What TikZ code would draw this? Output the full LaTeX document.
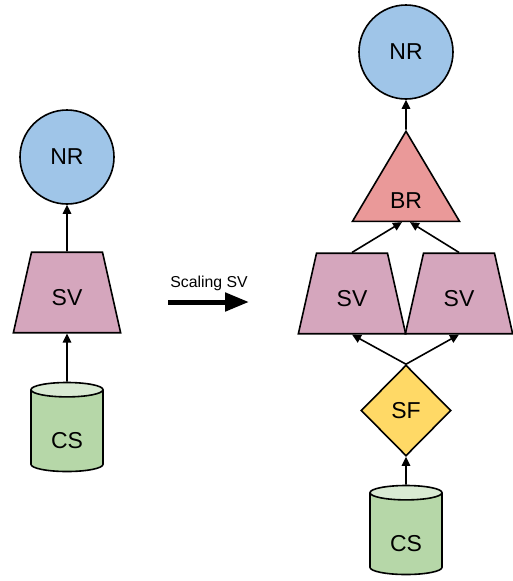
\documentclass[tikz,border=0pt]{standalone}
\usepackage{fontspec}
\setmainfont{Liberation Sans}
\usetikzlibrary{shapes.geometric,arrows.meta,calc}
\definecolor{nrblue}{HTML}{9FC5E8}
\definecolor{svpink}{HTML}{D5A6BD}
\definecolor{brred}{HTML}{EA9999}
\definecolor{sfyel}{HTML}{FFD966}
\definecolor{csgreen}{HTML}{B6D7A8}
\definecolor{cstop}{HTML}{D9EAD3}
\begin{document}
\begin{tikzpicture}[x=1pt,y=-1pt,
  every node/.style={font=\fontsize{23}{23}\selectfont, inner sep=0pt, line width=1.6pt, draw=black},
  nrnode/.style={circle, fill=nrblue, minimum size=94pt},
  svnode/.style={trapezium, trapezium angle=77.3, fill=svpink, text width=71pt, align=center, inner xsep=0pt, text height=26.5pt, text depth=0pt, inner ysep=27pt},
  brnode/.style={isosceles triangle, isosceles triangle apex angle=61, isosceles triangle stretches=true, shape border rotate=90, fill=brred, minimum width=107pt, minimum height=90pt, text height=24.5pt, text depth=0pt},
  sfnode/.style={diamond, fill=sfyel, minimum width=90pt, minimum height=91pt},
  csnode/.style={cylinder, shape border rotate=90, cylinder uses custom fill, cylinder body fill=csgreen, cylinder end fill=cstop, aspect=0.45, minimum width=72pt, minimum height=89pt, text height=34pt, text depth=0pt},
  arr/.style={line width=1.6pt, -{Triangle[length=9pt,width=8.5pt]}},
  bigarr/.style={line width=5pt, -{Triangle[length=24pt,width=18pt]}}]
\useasboundingbox (0,0) rectangle (513,581);
% left
\node[nrnode] (nr1) at (67,157) {NR};
\node[svnode] (sv1) at (67,292.5) {SV};
\node[csnode] (cs1) at (67,431) {CS};
\draw[arr] (cs1) -- (sv1);
\draw[arr] (sv1) -- (nr1);
% middle
\node[draw=none, font=\fontsize{15.8}{15.8}\selectfont] (lab) at (209,283) {Scaling SV};
\coordinate (a0) at (168,302);
\coordinate (a1) at (249,302);
\draw[bigarr] (a0) -- (a1);
% right
\node[nrnode] (nr2) at (406,52) {NR};
\node[brnode] (br) at (406,196) {BR};
\node[svnode] (sv2) at (352,293.5) {SV};
\node[svnode] (sv3) at (459,293.5) {SV};
\node[sfnode] (sf) at (406,410.5) {SF};
\node[csnode] (cs2) at (406,534) {CS};
\draw[arr] (br) -- (nr2);
\draw[arr] (sv2.north) -- ([xshift=-4pt]br.south);
\draw[arr] (sv3.north) -- ([xshift=4pt]br.south);
\draw[arr] (sf.north) -- (sv2.south);
\draw[arr] (sf.north) -- (sv3.south);
\draw[arr] (cs2) -- (sf);
\end{tikzpicture}
\end{document}
